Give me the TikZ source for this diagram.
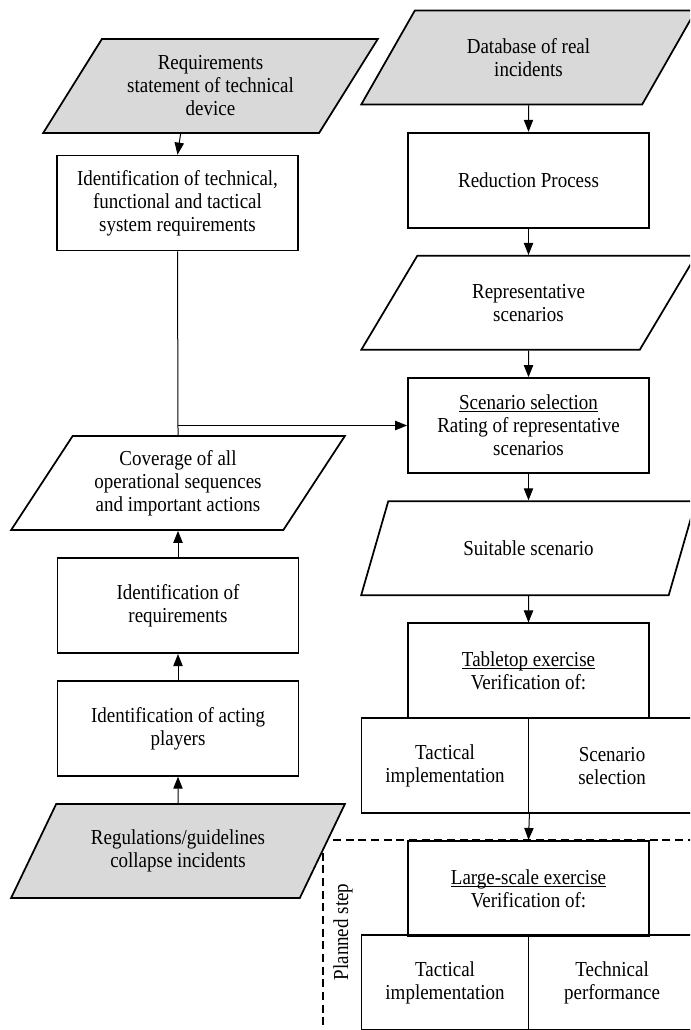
\documentclass[tikz,border=0pt]{standalone}
\usepackage{fontspec}
\setmainfont{Liberation Serif}[FakeStretch=0.89]
\usetikzlibrary{shapes.geometric, positioning, arrows.meta}

\newcommand{\stagetitle}[1]{\underline{\raisebox{0pt}[\height][0pt]{#1}}}

\tikzset{
    stepbox/.style={draw, line width=1.3pt, minimum width=180.75pt, minimum height=71.25pt, align=center, inner sep=1pt},
    halfbox/.style={stepbox, minimum width=125.25pt},
    datapara/.style={trapezium, trapezium left angle=54, trapezium right angle=126, trapezium stretches=true,
        draw, line width=1.3pt, minimum width=251pt, minimum height=70.5pt, align=center, inner sep=1pt},
    inpara/.style={datapara, fill=gray!30},
    flow/.style={-{Triangle[length=9pt,width=7pt]}, line width=0.75pt},
    planned/.style={dashed, dash pattern=on 6pt off 3.5pt, line width=1.1pt},
}

\begin{document}
\begin{tikzpicture}[x=0.75pt, y=-0.75pt, node distance=92pt, on grid, font=\fontsize{16}{17.25}\selectfont]
    \useasboundingbox (0,0) rectangle (690,1030);
    \clip (0,0) rectangle (690,1030);

    % right column
    \node[inpara] (db) at (528.5,57.5) {Database of real\\incidents};
    \node[stepbox, below=of db] (reduction) {Reduction Process};
    \node[datapara, below=of reduction] (repr) {Representative\\scenarios};
    \node[stepbox, below=of repr] (scensel) {\stagetitle{Scenario selection}\\Rating of representative\\scenarios};
    \node[datapara, below=of scensel] (suit) {Suitable scenario};
    \node[stepbox, below=of suit] (tabletop) {\stagetitle{Tabletop exercise}\\Verification of:};
    \node[halfbox, below left=71.25pt and 62.6pt of tabletop] (tact1) {Tactical\\implementation};
    \node[halfbox, right=125.25pt of tact1] (scen1) {Scenario\\selection};

    % planned step
    \draw[planned] (323,840) rectangle (720,1060);
    \node[stepbox, below=163.1pt of tabletop] (large) {\stagetitle{Large-scale exercise}\\Verification of:};
    \node[halfbox, below left=70.9pt and 62.6pt of large] (tact2) {Tactical\\implementation};
    \node[halfbox, right=125.25pt of tact2] (techperf) {Technical\\performance};
    \node[rotate=90] (plannedstep) at (343,932) {Planned step};

    % left column
    \node[inpara] (req) at (210.5,86) {Requirements\\statement of technical\\device};
    \node[stepbox] (idtech) at (177.5,203) {Identification of technical,\\functional and tactical\\system requirements};
    \node[datapara] (cover) at (178,483) {Coverage of all\\operational sequences\\and important actions};
    \node[stepbox, below=of cover] (idreq) {Identification of\\requirements};
    \node[stepbox, below=of idreq] (idact) {Identification of acting\\players};
    \node[inpara, below=of idact] (regul) {Regulations/guidelines\\collapse incidents};

    % connectors
    \draw[flow] (req.bottom side) -- (idtech.north);
    \draw[line width=0.75pt] (idtech.south) -- (cover.north);
    \draw[flow] (idtech.south |- scensel.west) -- (scensel.west);
    \draw[flow] (regul) -- (idact);
    \draw[flow] (idact) -- (idreq);
    \draw[flow] (idreq) -- (cover);
    \draw[flow] (db) -- (reduction);
    \draw[flow] (reduction) -- (repr);
    \draw[flow] (repr) -- (scensel);
    \draw[flow] (scensel) -- (suit);
    \draw[flow] (suit) -- (tabletop);
    \draw[flow] (tact1.south east) -- (large.north);
\end{tikzpicture}
\end{document}
